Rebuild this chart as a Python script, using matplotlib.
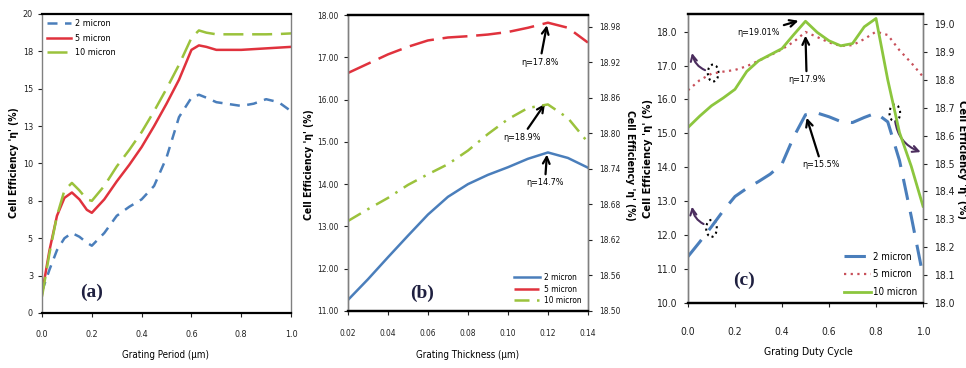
import numpy as np
import matplotlib.pyplot as plt
from matplotlib.patches import Ellipse

plt.rcParams['font.family'] = ['DejaVu Sans']
plt.rcParams['font.stretch'] = 'condensed'

# ---- (a) efficiency vs grating period ----
period = [0.0, 0.03, 0.06, 0.09, 0.12, 0.15, 0.18, 0.2, 0.25, 0.3, 0.35, 0.4,
          0.45, 0.5, 0.55, 0.6, 0.63, 0.66, 0.7, 0.8, 0.85, 0.9, 0.95, 1.0]
eff_a_2 = [1.45, 2.9, 4.2, 5.0, 5.35, 5.1, 4.7, 4.5, 5.35, 6.5, 7.1, 7.6,
           8.5, 10.4, 13.1, 14.4, 14.6, 14.4, 14.1, 13.85, 14.0, 14.3, 14.1, 13.5]
eff_a_5 = [1.3, 4.2, 6.5, 7.7, 8.06, 7.6, 6.9, 6.7, 7.6, 8.8, 9.9, 11.1,
           12.5, 14.0, 15.6, 17.6, 17.9, 17.8, 17.6, 17.6, 17.65, 17.7, 17.75, 17.8]
eff_a_10 = [1.1, 4.0, 6.5, 8.2, 8.7, 8.2, 7.6, 7.5, 8.5, 9.8, 10.9, 12.1,
            13.5, 15.0, 16.6, 18.4, 18.9, 18.75, 18.64, 18.64, 18.64, 18.64, 18.66, 18.7]
yticks_a = [0, 2.5, 5, 7.5, 10, 12.5, 15, 17.5, 20]
ylabels_a = ['0', '3', '5', '8', '10', '13', '15', '18', '20']

# ---- (b) efficiency vs grating thickness ----
thick = [0.02, 0.03, 0.04, 0.05, 0.06, 0.07, 0.08, 0.09, 0.10, 0.11, 0.12, 0.13, 0.14]
eff_b_2 = [11.26, 11.75, 12.27, 12.78, 13.28, 13.7, 14.0, 14.22, 14.4, 14.6, 14.75, 14.62, 14.39]
eff_b_5 = [16.63, 16.85, 17.07, 17.25, 17.4, 17.47, 17.5, 17.54, 17.6, 17.7, 17.82, 17.7, 17.35]
eff_b_10 = [18.652, 18.672, 18.691, 18.713, 18.731, 18.748, 18.771, 18.799, 18.824,
            18.843, 18.849, 18.826, 18.785]  # right axis

# ---- (c) efficiency vs duty cycle ----
duty = [0.0, 0.05, 0.1, 0.15, 0.2, 0.25, 0.3, 0.35, 0.4, 0.45, 0.5,
        0.55, 0.6, 0.65, 0.7, 0.75, 0.8, 0.85, 0.9, 0.95, 1.0]
eff_c_2 = [11.37, 11.8, 12.25, 12.72, 13.14, 13.38, 13.58, 13.8, 14.1, 14.9, 15.55,
           15.6, 15.49, 15.35, 15.32, 15.47, 15.6, 15.34, 14.2, 12.55, 10.8]
eff_c_5 = [16.27, 16.57, 16.76, 16.82, 16.87, 16.98, 17.14, 17.3, 17.48, 17.7, 17.99,
           17.84, 17.68, 17.58, 17.6, 17.78, 18.0, 17.9, 17.45, 17.08, 16.67]
eff_c_10 = [18.629, 18.67, 18.707, 18.735, 18.766, 18.83, 18.868, 18.89, 18.912, 18.962, 19.01,
            18.97, 18.94, 18.922, 18.93, 18.99, 19.02, 18.8, 18.611, 18.49, 18.347]  # right axis

blue = '#4a7ebb'
red = '#e0323d'
green = '#9bc23c'
ylab = "Cell Efficiency 'η' (%)"


def style(ax, size):
    for s in ['top', 'bottom']:
        ax.spines[s].set_color('black')
        ax.spines[s].set_linewidth(1.6)
    for s in ['left', 'right']:
        ax.spines[s].set_color('#808080')
        ax.spines[s].set_linewidth(1.0)
    ax.tick_params(direction='out', length=3, width=0.8, labelsize=size, colors='#222222')


fig = plt.figure(figsize=(9.66, 3.68), dpi=100)

# panel (a)
ax_a = fig.add_axes([0.0435, 0.1495, 0.2578, 0.8125])
ax_a.plot(period, eff_a_2, color=blue, lw=1.8, dashes=(4, 3), label='2 micron')
ax_a.plot(period, eff_a_5, color=red, lw=1.8, label='5 micron')
ax_a.plot(period, eff_a_10, color=green, lw=1.8, dashes=(8, 3.5), label='10 micron')
ax_a.set_xlim(0, 1.0)
ax_a.set_ylim(0, 20)
ax_a.set_yticks(yticks_a)
ax_a.set_yticklabels(ylabels_a)
ax_a.set_xticks(np.arange(0, 1.01, 0.2))
ax_a.set_xticklabels(['%.1f' % v for v in np.arange(0, 1.01, 0.2)])
style(ax_a, 6.5)
ax_a.tick_params(axis='x', pad=9)
ax_a.legend(loc='upper left', frameon=False, fontsize=6.5, handlelength=2.6,
            labelspacing=0.6, borderaxespad=0.2, handletextpad=0.4)
ax_a.text(0.2, 0.07, '(a)', transform=ax_a.transAxes, ha='center', va='center',
          fontsize=14, fontweight='bold', family='Liberation Serif', color='#1f2040')

# panel (b)
ax_b = fig.add_axes([0.3602, 0.155, 0.2484, 0.804])
ax_b2 = ax_b.twinx()
l1, = ax_b.plot(thick, eff_b_2, color=blue, lw=1.8, label='2 micron')
l2, = ax_b.plot(thick, eff_b_5, color=red, lw=1.8, dashes=(10, 3.5), label='5 micron')
l3, = ax_b2.plot(thick, eff_b_10, color=green, lw=1.8, dashes=(6, 3, 1, 3), label='10 micron')
ax_b.set_xlim(0.02, 0.14)
ax_b.set_ylim(11, 18)
ax_b2.set_ylim(18.50, 19.00)
ax_b.set_xticks(np.arange(0.02, 0.141, 0.02))
ax_b.set_xticklabels(['%.2f' % v for v in np.arange(0.02, 0.141, 0.02)])
ax_b.set_yticks(np.arange(11, 18.01, 1))
ax_b.set_yticklabels(['%.2f' % v for v in np.arange(11, 18.01, 1)])
ax_b2.set_yticks(np.arange(18.50, 18.99, 0.06))
ax_b2.set_yticklabels(['%.2f' % v for v in np.arange(18.50, 18.99, 0.06)])
style(ax_b, 6)
style(ax_b2, 6)
ax_b.tick_params(axis='x', pad=10)
ax_b2.tick_params(axis='y', pad=5)
ax_b2.legend(handles=[l1, l2, l3], loc='lower right', frameon=False, fontsize=6,
             handlelength=3.2, labelspacing=0.3, borderaxespad=0.3, handletextpad=0.5)
ax_b.text(0.31, 0.06, '(b)', transform=ax_b.transAxes, ha='center', va='center',
          fontsize=14, fontweight='bold', family='Liberation Serif', color='#1f2040')
arrow = dict(arrowstyle='->', lw=1.6, color='black', mutation_scale=12, shrinkA=1, shrinkB=0)
ax_b.annotate('η=17.8%', xy=(0.1195, 17.76), xytext=(0.116, 16.89), ha='center', va='center',
              fontsize=6.5, arrowprops=arrow)
ax_b.annotate('η=18.9%', xy=(0.1185, 15.9), xytext=(0.107, 15.11), ha='center', va='center',
              fontsize=6.5, arrowprops=arrow)
ax_b.annotate('η=14.7%', xy=(0.1195, 14.7), xytext=(0.1185, 14.03), ha='center', va='center',
              fontsize=6.5, arrowprops=arrow)

# panel (c)
ax_c = fig.add_axes([0.7122, 0.1766, 0.2433, 0.7854])
ax_c2 = ax_c.twinx()
m1, = ax_c.plot(duty, eff_c_2, color=blue, lw=2.2, dashes=(7, 4), label='2 micron')
m2, = ax_c.plot(duty, eff_c_5, color='#c8505a', lw=1.6, linestyle=(0, (1, 2)), label='5 micron')
m3, = ax_c2.plot(duty, eff_c_10, color='#8cc63e', lw=2.0, label='10 micron')
ax_c.set_xlim(0, 1.0)
ax_c.set_ylim(10, 18.52)
ax_c2.set_ylim(18.0, 19.036)
ax_c.set_xticks(np.arange(0, 1.01, 0.2))
ax_c.set_xticklabels(['%.1f' % v for v in np.arange(0, 1.01, 0.2)])
ax_c.set_yticks(np.arange(10, 18.01, 1))
ax_c.set_yticklabels(['%.1f' % v for v in np.arange(10, 18.01, 1)])
ax_c2.set_yticks(np.arange(18.0, 19.01, 0.1))
ax_c2.set_yticklabels(['%.1f' % v for v in np.arange(18.0, 19.01, 0.1)])
style(ax_c, 7.5)
style(ax_c2, 7.5)
ax_c.tick_params(axis='x', pad=14)
ax_c.tick_params(axis='y', pad=5)
ax_c2.tick_params(axis='y', pad=5)
ax_c2.legend(handles=[m1, m2, m3], loc='lower right', frameon=False, fontsize=7,
             handlelength=2.8, labelspacing=0.8, borderaxespad=0.2, handletextpad=0.2)
ax_c.text(0.24, 0.08, '(c)', transform=ax_c.transAxes, ha='center', va='center',
          fontsize=14, fontweight='bold', family='Liberation Serif', color='#1f2040')
ax_c.annotate('η=19.01%', xy=(0.47, 18.32), xytext=(0.3, 17.97), ha='center', va='center',
              fontsize=6.5, arrowprops=arrow)
ax_c.annotate('η=17.9%', xy=(0.5, 17.88), xytext=(0.505, 16.58), ha='center', va='center',
              fontsize=6.5, arrowprops=arrow)
ax_c.annotate('η=15.5%', xy=(0.505, 15.46), xytext=(0.568, 14.07), ha='center', va='center',
              fontsize=6.5, arrowprops=arrow)
curve = dict(arrowstyle='->', lw=1.5, color='#4b2d5e', mutation_scale=11,
             connectionstyle='arc3,rad=-0.35', shrinkA=6, shrinkB=0)
ax_c.annotate('', xy=(0.017, 17.37), xytext=(0.107, 16.8), arrowprops=curve)
ax_c.annotate('', xy=(0.017, 12.84), xytext=(0.1, 12.25), arrowprops=curve)
ax_c.annotate('', xy=(0.99, 14.45), xytext=(0.88, 15.6),
              arrowprops=dict(curve, connectionstyle='arc3,rad=0.35'))
for cx, cy in [(0.107, 16.78), (0.1, 12.2), (0.88, 15.6)]:
    ax_c.add_patch(Ellipse((cx, cy), 0.045, 0.5, fill=False, ls=':', lw=1.5, ec='black'))

# axis titles
fig.text(0.015, 1 - 163 / 368, ylab, rotation=90, ha='center', va='center', fontsize=7.5, fontweight='bold')
fig.text(0.32, 1 - 165 / 368, ylab, rotation=90, ha='center', va='center', fontsize=7.5, fontweight='bold')
fig.text(0.652, 1 - 165 / 368, ylab, rotation=270, ha='center', va='center', fontsize=7.5, fontweight='bold')
fig.text(0.671, 1 - 159 / 368, ylab, rotation=90, ha='center', va='center', fontsize=8, fontweight='bold')
fig.text(0.996, 1 - 159 / 368, ylab, rotation=270, ha='center', va='center', fontsize=8, fontweight='bold')
fig.text(166 / 966, 1 - 355 / 368, 'Grating Period (μm)', ha='center', va='center', fontsize=7)
fig.text(468 / 966, 1 - 355 / 368, 'Grating Thickness (μm)', ha='center', va='center', fontsize=7)
fig.text(808 / 966, 1 - 352 / 368, 'Grating Duty Cycle', ha='center', va='center', fontsize=7.5)

fig.savefig('out.png', dpi=100)
